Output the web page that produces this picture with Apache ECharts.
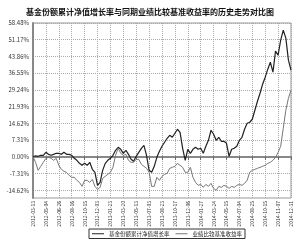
<!DOCTYPE html>
<html>
<head>
<meta charset="utf-8">
<script src="https://cdn.jsdelivr.net/npm/echarts@6/dist/echarts.min.js"></script>
<style>
  html, body { margin: 0; padding: 0; background: #fff; }
  #main { width: 300px; height: 243px; }
</style>
</head>
<body>
<div id="main"></div>
<script>
// x轴日期标签（每5个点一个）
var tickLabels = [
  '2012-03-13', '2012-05-04', '2012-06-26', '2012-08-16', '2012-10-15',
  '2012-12-03', '2013-01-23', '2013-03-20', '2013-05-13', '2013-07-03',
  '2013-08-23', '2013-10-17', '2013-12-06', '2014-01-27', '2014-03-24',
  '2014-05-15', '2014-07-04', '2014-08-25', '2014-10-15', '2014-11-07',
  '2014-12-31'
];
var step = 5;

// y轴刻度 (%)
var yTicks = [-14.62, -7.31, 0, 7.31, 14.62, 21.93, 29.24, 36.55, 43.86, 51.17, 58.48];

// 基金份额累计净值增长率 (%)
var fundValues = [
  0, 0.44, 0.22, 0.66, 0.66, 1.97, 1.09, 0.66, 1.09, 1.53,
  1.53, 1.09, 1.97, 1.09, 1.09, 0.66, -0.66, -1.53, -2.85, -3.72,
  -2.85, -3.72, -2.41, -5.47, -6.78, -12.47, -11.16, -5.91, -2.85, -1.53,
  -0.66, 0.66, 2.85, 4.16, 3.28, 1.53, 2.85, 1.09, -1.09, -1.97,
  0.22, 1.97, 3.72, 5.03, 0.66, -5.91, -6.78, -4.16, -0.22, 2.41,
  4.60, 6.35, 8.10, 9.41, 8.54, 10.29, 12.04, 10.72, 3.72, -1.53,
  3.28, 1.53, 3.28, 4.16, 3.28, 3.72, 1.53, 4.60, 7.22, 11.60,
  9.85, 7.22, 8.54, 6.78, 6.78, 5.91, 0.22, 3.28, 3.72, 4.60,
  7.22, 8.54, 12.04, 14.66, 15.10, 16.41, 20.35, 24.29, 27.79, 31.73,
  34.80, 38.30, 41.36, 36.99, 46.18, 44.43, 50.99, 55.37, 51.87, 42.23,
  37.86
];

// 业绩比较基准收益率 (%)
var benchValues = [
  0, -2.41, -5.91, -4.16, -2.41, -0.66, -0.22, -0.66, -1.53, -0.66,
  -3.72, -5.47, -6.35, -6.78, -8.10, -8.97, -8.97, -10.29, -11.16, -12.91,
  -10.29, -10.29, -11.16, -9.85, -12.91, -14.23, -13.35, -9.41, -8.54, -7.66,
  -6.78, -4.60, 0.66, 3.72, 1.53, 0.66, 1.09, -1.53, -2.41, -2.41,
  -1.09, -1.09, -3.28, -4.16, -5.03, -6.78, -12.91, -12.91, -8.97, -10.29,
  -8.54, -7.66, -7.22, -5.03, -4.60, -4.16, -2.85, -3.72, -4.60, -6.78,
  -6.78, -4.60, -8.97, -11.16, -12.47, -12.04, -13.35, -12.04, -12.91, -11.60,
  -13.79, -14.66, -12.91, -13.35, -12.47, -12.91, -13.79, -12.91, -13.35, -12.47,
  -12.04, -12.47, -11.60, -10.29, -6.78, -5.91, -5.47, -5.03, -4.60, -4.16,
  -3.72, -2.85, -2.41, -1.53, -0.22, 1.97, 4.60, 12.47, 20.35, 25.61,
  29.11
];

var categories = fundValues.map(function (v, i) { return String(i); });

var chart = echarts.init(document.getElementById('main'), null, { renderer: 'canvas' });
chart.setOption({
  animation: false,
  backgroundColor: '#fff',
  textStyle: { fontFamily: 'Noto Sans CJK SC' },
  title: {
    text: '基金份额累计净值增长率与同期业绩比较基准收益率的历史走势对比图',
    left: 'center',
    top: 3,
    textStyle: { fontSize: 8, fontWeight: 'bold', color: '#111', fontFamily: 'Noto Sans CJK SC' }
  },
  legend: {
    left: 89,
    top: 229,
    itemWidth: 12,
    itemHeight: 1,
    icon: 'rect',
    itemGap: 6,
    padding: [2, 3],
    borderColor: '#333',
    borderWidth: 1,
    textStyle: { fontSize: 5.5, color: '#222' },
    data: ['基金份额累计净值增长率', '业绩比较基准收益率']
  },
  grid: {
    left: 33, right: 9, top: 23, bottom: 45,
    show: true, borderColor: '#999', borderWidth: 1
  },
  xAxis: {
    type: 'category',
    data: categories,
    boundaryGap: false,
    axisLine: { lineStyle: { color: '#888', width: 2 } },
    axisTick: { show: true, interval: step - 1, length: 3, lineStyle: { color: '#666' } },
    axisLabel: {
      interval: step - 1,
      rotate: 90,
      fontSize: 5,
      color: '#333',
      margin: 3,
      formatter: function (v, i) { return tickLabels[i / step] || ''; }
    },
    splitLine: { show: true, interval: step - 1, lineStyle: { color: '#aaa', type: 'dotted' } }
  },
  yAxis: {
    type: 'value',
    min: -18,
    max: 58.48,
    axisLine: { show: true, lineStyle: { color: '#888', width: 2 } },
    axisTick: { show: false, customValues: yTicks },
    axisLabel: {
      customValues: yTicks,
      fontSize: 6,
      color: '#333',
      margin: 4,
      formatter: function (v) { return v.toFixed(2) + '%'; }
    },
    splitLine: { show: true, lineStyle: { color: '#aaa', type: 'dotted' } }
  },
  series: [
    {
      name: '基金份额累计净值增长率',
      type: 'line',
      data: fundValues,
      symbol: 'none',
      lineStyle: { color: '#222', width: 1.2 },
      itemStyle: { color: '#222' }
    },
    {
      name: '业绩比较基准收益率',
      type: 'line',
      data: benchValues,
      symbol: 'none',
      lineStyle: { color: '#777', width: 1 },
      itemStyle: { color: '#777' }
    }
  ]
});
</script>
</body>
</html>
